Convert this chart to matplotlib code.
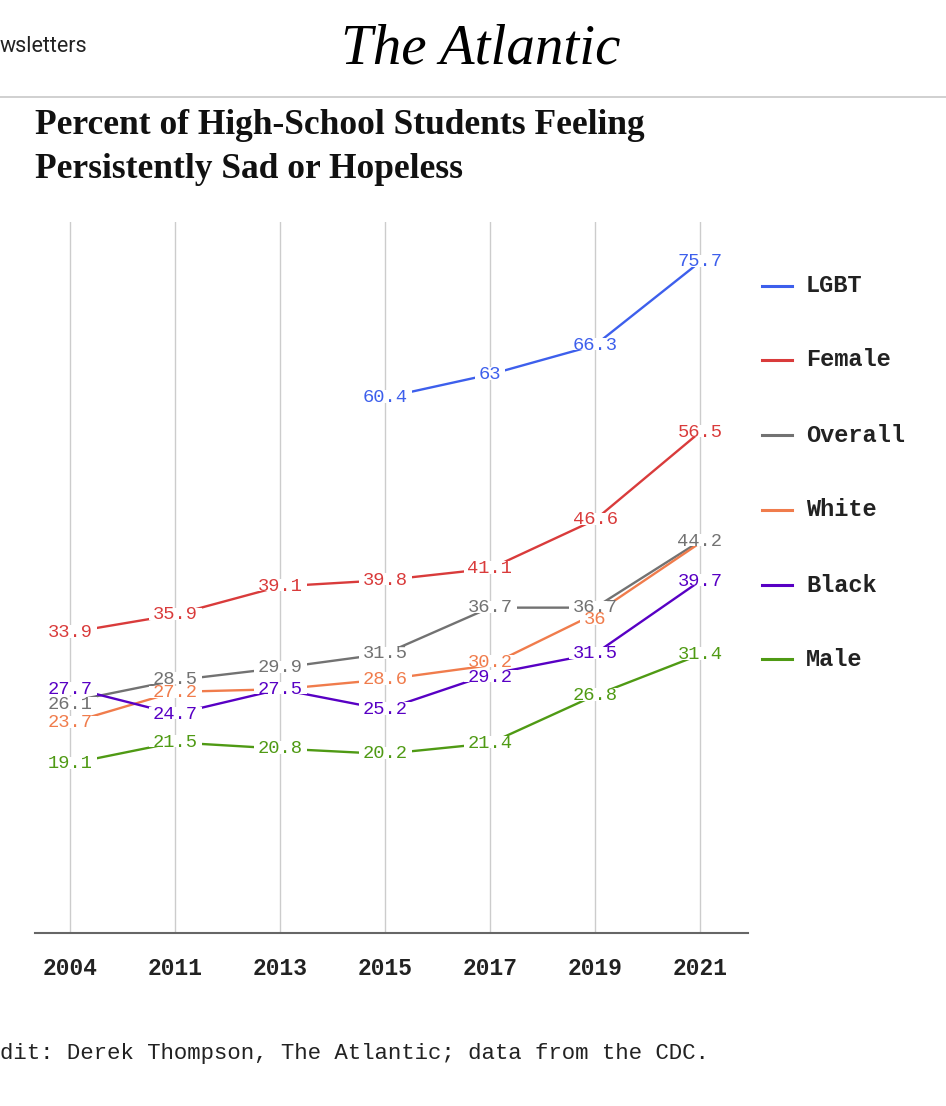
import numpy as np
import matplotlib.pyplot as plt
from matplotlib.lines import Line2D
from matplotlib.patches import Rectangle
from matplotlib.transforms import offset_copy

years = ['2004', '2011', '2013', '2015', '2017', '2019', '2021']

series_names = ['LGBT', 'Female', 'Overall', 'White', 'Black', 'Male']
lgbt = [np.nan, np.nan, np.nan, 60.4, 63, 66.3, 75.7]
female = [33.9, 35.9, 39.1, 39.8, 41.1, 46.6, 56.5]
overall = [26.1, 28.5, 29.9, 31.5, 36.7, 36.7, 44.2]
white = [23.7, 27.2, 27.5, 28.6, 30.2, 36, 44.0]
black = [27.7, 24.7, 27.5, 25.2, 29.2, 31.5, 39.7]
male = [19.1, 21.5, 20.8, 20.2, 21.4, 26.8, 31.4]

# point labels (None = label hidden under another series' label)
lgbt_lbl = [None, None, None, '60.4', '63', '66.3', '75.7']
female_lbl = ['33.9', '35.9', '39.1', '39.8', '41.1', '46.6', '56.5']
overall_lbl = ['26.1', '28.5', '29.9', '31.5', '36.7', '36.7', '44.2']
white_lbl = ['23.7', '27.2', None, '28.6', '30.2', '36', None]
black_lbl = ['27.7', '24.7', '27.5', '25.2', '29.2', '31.5', '39.7']
male_lbl = ['19.1', '21.5', '20.8', '20.2', '21.4', '26.8', '31.4']

colors = ['#3d5fec', '#d93b3b', '#727272', '#f07c4c', '#5800c4', '#4f9a14']

values = [lgbt, female, overall, white, black, male]
labels = [lgbt_lbl, female_lbl, overall_lbl, white_lbl, black_lbl, male_lbl]

# small vertical nudges of labels (pixels, + = down) to keep them apart
nudge = {('White', 5): 6, ('White', 4): -3, ('Black', 4): 3,
         ('Black', 0): 2, ('Overall', 0): 3, ('Overall', 1): -1, ('White', 1): 1}

W, H = 946, 1106
fig = plt.figure(figsize=(W / 100, H / 100), dpi=100)

def px(x, y):
    return x / W, 1 - y / H

# page header
fig.text(*px(0, 47), 'wsletters', fontsize=15.5, family='Roboto', va='center', ha='left', color='#222')
fig.text(*px(481, 50), 'The Atlantic', fontsize=41, family='Liberation Serif', style='italic',
         va='center', ha='center', color='#000')
fig.add_artist(Line2D([0, 1], [1 - 97 / H] * 2, color='#c8c8c8', lw=1.2, transform=fig.transFigure))
fig.text(*px(35, 126), 'Percent of High-School Students Feeling', fontsize=25.5, family='Liberation Serif',
         weight='bold', va='center', ha='left', color='#111')
fig.text(*px(35, 170), 'Persistently Sad or Hopeless', fontsize=25.5, family='Liberation Serif',
         weight='bold', va='center', ha='left', color='#111')

ax = fig.add_axes([35 / W, 1 - 933 / H, 713 / W, 711 / H])
x = np.arange(len(years))
ax.set_xlim(-1 / 3, (748 - 70) / 105)
ax.set_ylim(0, 80.2)

for xi in x:
    ax.axvline(xi, color='#cccccc', lw=1, zorder=0)

for vals, c in zip(values, colors):
    ax.plot(x, vals, color=c, lw=1.7, zorder=2, solid_capstyle='butt')

texts = []
for name, vals, lbls, c in zip(series_names, values, labels, colors):
    for i, (xi, v, t) in enumerate(zip(x, vals, lbls)):
        if t is None:
            continue
        dy = nudge.get((name, i), 0)
        tr = offset_copy(ax.transData, fig=fig, x=0, y=-dy * 72 / 100, units='points')
        texts.append(ax.text(xi, v, t, color=c, fontsize=13.5, family='Liberation Mono',
                             ha='center', va='center', zorder=5, transform=tr))

for s in ['top', 'right', 'left']:
    ax.spines[s].set_visible(False)
ax.spines['bottom'].set_color('#666666')
ax.spines['bottom'].set_linewidth(1.5)
ax.set_yticks([])
ax.set_xticks(x)
ax.set_xticklabels(years, family='Liberation Mono', weight='bold', fontsize=16.5, color='#222')
ax.tick_params(axis='x', length=0, pad=17)

# legend
leg_y = [286, 360, 435, 510, 585, 659]
for name, c, ly in zip(series_names, colors, leg_y):
    fig.add_artist(Line2D([762 / W, 792 / W], [1 - ly / H] * 2, color=c, lw=2.2, transform=fig.transFigure))
    fig.text(*px(806, ly), name, fontsize=17, family='Liberation Mono', weight='bold',
             va='center', ha='left', color='#222')

fig.text(*px(0, 1054), 'dit: Derek Thompson, The Atlantic; data from the CDC.', fontsize=16.1,
         family='Liberation Mono', va='center', ha='left', color='#222')

# white boxes behind the labels (below all label text) so lines break around them
fig.canvas.draw()
rend = fig.canvas.get_renderer()
for t in texts:
    bb = t.get_window_extent(rend)
    h = bb.height
    ax.add_patch(Rectangle((bb.x0 - 4, bb.y0 + 0.2 * h), bb.width + 8, 0.72 * h,
                           facecolor='white', edgecolor='none', zorder=4, transform=None))

fig.savefig('out.png', dpi=100)
